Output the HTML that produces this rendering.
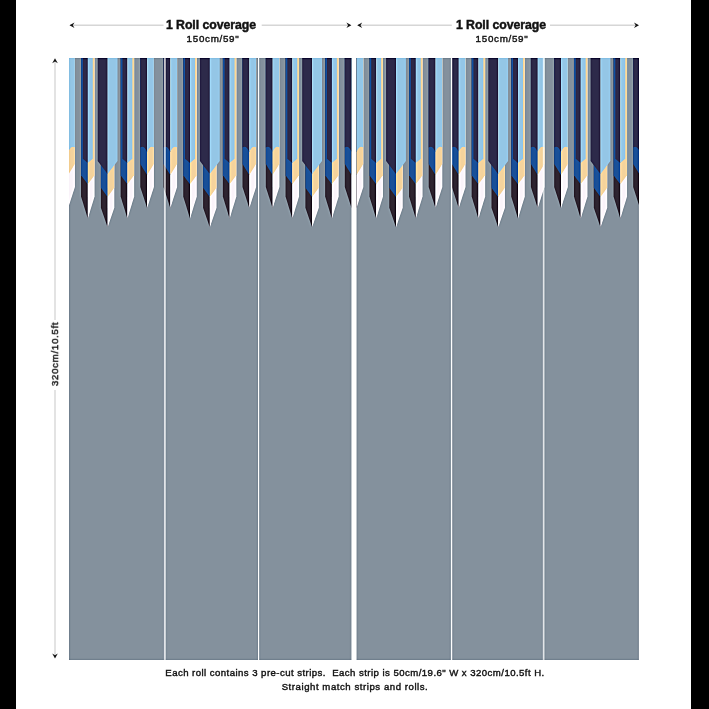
<!DOCTYPE html>
<html><head><meta charset="utf-8"><style>
html,body{margin:0;padding:0;background:#fff;width:709px;height:709px;overflow:hidden;position:relative}
.bar{position:absolute;top:0;height:709px;background:#000}
.t{position:absolute;font-family:"Liberation Sans",sans-serif;color:#111;white-space:nowrap;line-height:1;will-change:transform}
.b{font-weight:bold;-webkit-text-stroke:0.45px #111}
.m{-webkit-text-stroke:0.4px #111}
</style></head><body>
<div class="bar" style="left:0;width:16px"></div>
<div class="bar" style="left:691px;width:18px"></div>
<svg width="709" height="709" viewBox="0 0 709 709" style="position:absolute;left:0;top:0">
<defs>
<filter id="sh" x="0" y="0" width="1" height="1" color-interpolation-filters="sRGB">
<feGaussianBlur in="SourceGraphic" stdDeviation="1.3" result="bl"/>
<feComposite in="SourceGraphic" in2="bl" operator="arithmetic" k1="0" k2="1.5" k3="-0.5" k4="0"/>
</filter>
<clipPath id="c1"><rect x="69" y="58.0" width="282.6" height="602.0"/></clipPath>
<clipPath id="c2"><rect x="356.1" y="58.0" width="282.8" height="602.0"/></clipPath>
<g id="roll"><polygon points="61.3,57 61.3,187.1 68.1,208 68.1,57" fill="#2e2430"/>
<polygon points="68.1,57 68.1,208 74.9,187.1 74.9,57" fill="#faf4fa"/>
<polygon points="61.3,57 61.3,164 68.1,175 68.1,57" fill="#1a5097"/>
<polygon points="68.1,57 68.1,175 74.9,164 74.9,57" fill="#f4d39d"/>
<path d="M61.3 57 L61.3 147.5 Q65.04 145 68.1 152 L68.1 57 Z" fill="#2d2a4a"/>
<path d="M74.9 57 L74.9 147.5 Q71.16 145 68.1 152 L68.1 57 Z" fill="#94c6e6"/>
<polygon points="81.05,57 81.05,196.5 87.8,218.5 87.8,57" fill="#2e2430"/>
<polygon points="87.8,57 87.8,218.5 94.55,196.5 94.55,57" fill="#faf4fa"/>
<polygon points="81.05,57 81.05,175.2 87.8,184.3 87.8,57" fill="#1a5097"/>
<polygon points="87.8,57 87.8,184.3 94.55,175.2 94.55,57" fill="#f4d39d"/>
<polygon points="82.85,57 82.85,158.8 87.8,163 87.8,57" fill="#2d2a4a"/>
<polygon points="87.8,57 87.8,163 92.75,158.8 92.75,57" fill="#94c6e6"/>
<polygon points="100.9,57 100.9,207.8 107.6,227.2 107.6,57" fill="#2e2430"/>
<polygon points="107.6,57 107.6,227.2 114.3,207.8 114.3,57" fill="#faf4fa"/>
<polygon points="100.9,57 100.9,187.8 107.6,197 107.6,57" fill="#1a5097"/>
<polygon points="107.6,57 107.6,197 114.3,187.8 114.3,57" fill="#f4d39d"/>
<polygon points="97.7,57 97.7,160.9 107.6,174 107.6,57" fill="#2d2a4a"/>
<polygon points="107.6,57 107.6,174 117.5,160.9 117.5,57" fill="#94c6e6"/>
<polygon points="120.65,57 120.65,196.5 127.4,218.5 127.4,57" fill="#2e2430"/>
<polygon points="127.4,57 127.4,218.5 134.15,196.5 134.15,57" fill="#faf4fa"/>
<polygon points="120.65,57 120.65,175.2 127.4,184.3 127.4,57" fill="#1a5097"/>
<polygon points="127.4,57 127.4,184.3 134.15,175.2 134.15,57" fill="#f4d39d"/>
<polygon points="122.45,57 122.45,158.8 127.4,163 127.4,57" fill="#2d2a4a"/>
<polygon points="127.4,57 127.4,163 132.35,158.8 132.35,57" fill="#94c6e6"/>
<polygon points="140.3,57 140.3,187.1 147.1,208 147.1,57" fill="#2e2430"/>
<polygon points="147.1,57 147.1,208 153.9,187.1 153.9,57" fill="#faf4fa"/>
<polygon points="140.3,57 140.3,164 147.1,175 147.1,57" fill="#1a5097"/>
<polygon points="147.1,57 147.1,175 153.9,164 153.9,57" fill="#f4d39d"/>
<path d="M140.3 57 L140.3 147.5 Q144.04 145 147.1 152 L147.1 57 Z" fill="#2d2a4a"/>
<path d="M153.9 57 L153.9 147.5 Q150.16 145 147.1 152 L147.1 57 Z" fill="#94c6e6"/>
<polygon points="163.5,57 163.5,187.1 170.3,208 170.3,57" fill="#2e2430"/>
<polygon points="170.3,57 170.3,208 177.1,187.1 177.1,57" fill="#faf4fa"/>
<polygon points="163.5,57 163.5,164 170.3,175 170.3,57" fill="#1a5097"/>
<polygon points="170.3,57 170.3,175 177.1,164 177.1,57" fill="#f4d39d"/>
<path d="M163.5 57 L163.5 147.5 Q167.24 145 170.3 152 L170.3 57 Z" fill="#2d2a4a"/>
<path d="M177.1 57 L177.1 147.5 Q173.36 145 170.3 152 L170.3 57 Z" fill="#94c6e6"/>
<polygon points="183.25,57 183.25,196.5 190,218.5 190,57" fill="#2e2430"/>
<polygon points="190,57 190,218.5 196.75,196.5 196.75,57" fill="#faf4fa"/>
<polygon points="183.25,57 183.25,175.2 190,184.3 190,57" fill="#1a5097"/>
<polygon points="190,57 190,184.3 196.75,175.2 196.75,57" fill="#f4d39d"/>
<polygon points="185.05,57 185.05,158.8 190,163 190,57" fill="#2d2a4a"/>
<polygon points="190,57 190,163 194.95,158.8 194.95,57" fill="#94c6e6"/>
<polygon points="203.1,57 203.1,207.8 209.8,227.2 209.8,57" fill="#2e2430"/>
<polygon points="209.8,57 209.8,227.2 216.5,207.8 216.5,57" fill="#faf4fa"/>
<polygon points="203.1,57 203.1,187.8 209.8,197 209.8,57" fill="#1a5097"/>
<polygon points="209.8,57 209.8,197 216.5,187.8 216.5,57" fill="#f4d39d"/>
<polygon points="199.9,57 199.9,160.9 209.8,174 209.8,57" fill="#2d2a4a"/>
<polygon points="209.8,57 209.8,174 219.7,160.9 219.7,57" fill="#94c6e6"/>
<polygon points="222.85,57 222.85,196.5 229.6,218.5 229.6,57" fill="#2e2430"/>
<polygon points="229.6,57 229.6,218.5 236.35,196.5 236.35,57" fill="#faf4fa"/>
<polygon points="222.85,57 222.85,175.2 229.6,184.3 229.6,57" fill="#1a5097"/>
<polygon points="229.6,57 229.6,184.3 236.35,175.2 236.35,57" fill="#f4d39d"/>
<polygon points="224.65,57 224.65,158.8 229.6,163 229.6,57" fill="#2d2a4a"/>
<polygon points="229.6,57 229.6,163 234.55,158.8 234.55,57" fill="#94c6e6"/>
<polygon points="242.5,57 242.5,187.1 249.3,208 249.3,57" fill="#2e2430"/>
<polygon points="249.3,57 249.3,208 256.1,187.1 256.1,57" fill="#faf4fa"/>
<polygon points="242.5,57 242.5,164 249.3,175 249.3,57" fill="#1a5097"/>
<polygon points="249.3,57 249.3,175 256.1,164 256.1,57" fill="#f4d39d"/>
<path d="M242.5 57 L242.5 147.5 Q246.24 145 249.3 152 L249.3 57 Z" fill="#2d2a4a"/>
<path d="M256.1 57 L256.1 147.5 Q252.36 145 249.3 152 L249.3 57 Z" fill="#94c6e6"/>
<polygon points="265.8,57 265.8,187.1 272.6,208 272.6,57" fill="#2e2430"/>
<polygon points="272.6,57 272.6,208 279.4,187.1 279.4,57" fill="#faf4fa"/>
<polygon points="265.8,57 265.8,164 272.6,175 272.6,57" fill="#1a5097"/>
<polygon points="272.6,57 272.6,175 279.4,164 279.4,57" fill="#f4d39d"/>
<path d="M265.8 57 L265.8 147.5 Q269.54 145 272.6 152 L272.6 57 Z" fill="#2d2a4a"/>
<path d="M279.4 57 L279.4 147.5 Q275.66 145 272.6 152 L272.6 57 Z" fill="#94c6e6"/>
<polygon points="285.55,57 285.55,196.5 292.3,218.5 292.3,57" fill="#2e2430"/>
<polygon points="292.3,57 292.3,218.5 299.05,196.5 299.05,57" fill="#faf4fa"/>
<polygon points="285.55,57 285.55,175.2 292.3,184.3 292.3,57" fill="#1a5097"/>
<polygon points="292.3,57 292.3,184.3 299.05,175.2 299.05,57" fill="#f4d39d"/>
<polygon points="287.35,57 287.35,158.8 292.3,163 292.3,57" fill="#2d2a4a"/>
<polygon points="292.3,57 292.3,163 297.25,158.8 297.25,57" fill="#94c6e6"/>
<polygon points="305.4,57 305.4,207.8 312.1,227.2 312.1,57" fill="#2e2430"/>
<polygon points="312.1,57 312.1,227.2 318.8,207.8 318.8,57" fill="#faf4fa"/>
<polygon points="305.4,57 305.4,187.8 312.1,197 312.1,57" fill="#1a5097"/>
<polygon points="312.1,57 312.1,197 318.8,187.8 318.8,57" fill="#f4d39d"/>
<polygon points="302.2,57 302.2,160.9 312.1,174 312.1,57" fill="#2d2a4a"/>
<polygon points="312.1,57 312.1,174 322,160.9 322,57" fill="#94c6e6"/>
<polygon points="325.15,57 325.15,196.5 331.9,218.5 331.9,57" fill="#2e2430"/>
<polygon points="331.9,57 331.9,218.5 338.65,196.5 338.65,57" fill="#faf4fa"/>
<polygon points="325.15,57 325.15,175.2 331.9,184.3 331.9,57" fill="#1a5097"/>
<polygon points="331.9,57 331.9,184.3 338.65,175.2 338.65,57" fill="#f4d39d"/>
<polygon points="326.95,57 326.95,158.8 331.9,163 331.9,57" fill="#2d2a4a"/>
<polygon points="331.9,57 331.9,163 336.85,158.8 336.85,57" fill="#94c6e6"/>
<polygon points="344.8,57 344.8,187.1 351.6,208 351.6,57" fill="#2e2430"/>
<polygon points="351.6,57 351.6,208 358.4,187.1 358.4,57" fill="#faf4fa"/>
<polygon points="344.8,57 344.8,164 351.6,175 351.6,57" fill="#1a5097"/>
<polygon points="351.6,57 351.6,175 358.4,164 358.4,57" fill="#f4d39d"/>
<path d="M344.8 57 L344.8 147.5 Q348.54 145 351.6 152 L351.6 57 Z" fill="#2d2a4a"/>
<path d="M358.4 57 L358.4 147.5 Q354.66 145 351.6 152 L351.6 57 Z" fill="#94c6e6"/></g>
</defs>
<g filter="url(#sh)">
<rect x="20" y="45" width="665" height="630" fill="#ffffff"/>
<rect x="69" y="58.0" width="282.5" height="602.0" fill="#84919d"/>
<rect x="356.5" y="58.0" width="282.4" height="602.0" fill="#84919d"/>
<g clip-path="url(#c1)"><use href="#roll"/></g>
<g clip-path="url(#c2)"><use href="#roll" transform="translate(288.4,0)"/></g>
<rect x="163.9" y="58.0" width="1.9" height="602.0" fill="#ffffff" fill-opacity="0.62"/>
<rect x="258" y="58.0" width="1.15" height="602.0" fill="#ffffff" fill-opacity="0.97"/>
<rect x="450.9" y="58.0" width="1.3" height="602.0" fill="#ffffff" fill-opacity="0.97"/>
<rect x="542.8" y="58.0" width="1.7" height="602.0" fill="#ffffff" fill-opacity="0.62"/>
</g>
<!-- arrows -->
<g stroke="#d6d6d6" stroke-width="1.5" fill="none">
<line x1="70" y1="25.2" x2="163.5" y2="25.2"/>
<line x1="261.7" y1="25.2" x2="350" y2="25.2"/>
<line x1="358" y1="25.2" x2="451.8" y2="25.2"/>
<line x1="550" y1="25.2" x2="637" y2="25.2"/>
</g>
<g stroke="#e0e0e0" stroke-width="1.8" fill="none">
<line x1="55" y1="60" x2="55" y2="320"/>
<line x1="55" y1="390" x2="55" y2="657"/>
</g>
<g fill="#111">
<path d="M69.5 25.2 L74.5 22.4 L72.8 25.2 L74.5 28 Z"/>
<path d="M351.4 25.2 L346.4 22.4 L348.1 25.2 L346.4 28 Z"/>
<path d="M357.2 25.2 L362.2 22.4 L360.5 25.2 L362.2 28 Z"/>
<path d="M639 25.2 L634 22.4 L635.7 25.2 L634 28 Z"/>
<path d="M55 58.3 L52.2 63.3 L55 61.6 L57.8 63.3 Z"/>
<path d="M55 658.6 L52.2 653.6 L55 655.3 L57.8 653.6 Z"/>
</g>
</svg>
<div class="t b" style="left:161px;top:19px;width:100px;text-align:center;font-size:12.3px;letter-spacing:-0.05px">1 Roll coverage</div>
<div class="t m" style="left:183px;top:34px;width:60px;text-align:center;font-size:9.8px;letter-spacing:0.7px">150cm/59&quot;</div>
<div class="t b" style="left:451px;top:19px;width:100px;text-align:center;font-size:12.3px;letter-spacing:-0.05px">1 Roll coverage</div>
<div class="t m" style="left:472px;top:34px;width:60px;text-align:center;font-size:9.8px;letter-spacing:0.7px">150cm/59&quot;</div>
<div class="t m" style="left:14.5px;top:349px;width:80px;text-align:center;font-size:9.8px;letter-spacing:0.65px;transform:rotate(-90deg)">320cm/10.5ft</div>
<div class="t m" style="left:105px;top:668px;width:500px;text-align:center;font-size:9.6px;letter-spacing:0.45px">Each roll contains 3 pre-cut strips.&nbsp; Each strip is 50cm/19.6&quot; W x 320cm/10.5ft H.</div>
<div class="t m" style="left:105px;top:682px;width:500px;text-align:center;font-size:9.6px;letter-spacing:0.55px">Straight match strips and rolls.</div>
</body></html>
